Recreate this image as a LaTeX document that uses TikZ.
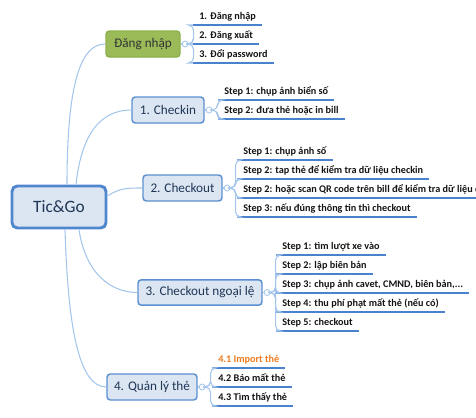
\documentclass[tikz,border=0pt]{standalone}
\usepackage{fontspec}
\setmainfont{Carlito}
\definecolor{connblue}{HTML}{A4C6EC}
\definecolor{boxblue}{HTML}{5B8FD2}
\definecolor{boxfill}{HTML}{DCE6F2}
\definecolor{rootblue}{HTML}{4F86CD}
\definecolor{navy}{HTML}{1F3656}
\definecolor{ulblue}{HTML}{4A82CE}
\definecolor{greenfill}{HTML}{9BBB59}
\definecolor{greenline}{HTML}{8DB04C}
\definecolor{leaftext}{HTML}{141414}
\definecolor{orangetext}{HTML}{EE7A1E}
\begin{document}
\begin{tikzpicture}[x=0.75pt,y=-0.75pt,
  conn/.style={draw=connblue, line width=0.8pt},
  branchln/.style={draw=connblue, line width=0.8pt, rounded corners=4pt},
  uline/.style={draw=ulblue, line width=1.5pt},
  box/.style={draw=boxblue, fill=boxfill, line width=1.1pt, rounded corners=2.5pt,
    text=navy, font=\fontsize{9.9}{11}\selectfont, inner sep=0pt, minimum height=19.5pt},
  rootbox/.style={box, draw=rootblue, line width=2.2pt, rounded corners=4pt,
    font=\fontsize{13}{15}\selectfont, minimum width=70.5pt, minimum height=31.5pt},
  greenbox/.style={box, draw=greenline, fill=greenfill, text=black!80},
  knob/.style={circle, draw=connblue, fill=white, line width=0.6pt, inner sep=0pt, minimum size=4.5pt, anchor=west},
  leaf/.style={anchor=south west, inner xsep=4.5pt, inner ysep=3.75pt, text depth=0pt,
    font=\bfseries\fontsize{7.65}{9}\selectfont, text=leaftext}
]
\useasboundingbox (0,0) rectangle (476,418);

% root and main branches
\node[rootbox] (root) at (59,207) {Tic\&Go};
\node[greenbox, minimum width=55.5pt] (b0) at (143,44) {Đăng nhập};
\node[box, minimum width=54pt] (b1) at (168,110) {1. Checkin};
\node[box, minimum width=59.25pt] (b2) at (182.5,188) {2. Checkout};
\node[box, minimum width=93pt, minimum height=19pt] (b3) at (200,292.5) {3. Checkout ngoại lệ};
\node[box, minimum width=67.5pt] (b4) at (152,387) {4. Quản lý thẻ};

% main connectors
\draw[conn] ([xshift=6pt]root.north) .. controls +(0,-110) and +(-22,0) .. (b0.west);
\draw[conn] ([xshift=12.75pt]root.north) .. controls +(6,-56) and +(-27,0) .. (b1.west);
\draw[conn] ([yshift=8.25pt]root.east) .. controls +(12,-8) and +(-15,0) .. (b2.west);
\draw[conn] ([xshift=15pt]root.south) .. controls +(6,42) and +(-28,0) .. (b3.west);
\draw[conn] ([xshift=4.5pt]root.south) .. controls +(3,100) and +(-27,0) .. (b4.west);

% knobs
\node[knob] (k0) at ([xshift=0.75pt]b0.east) {};
\node[knob] (k1) at ([xshift=0.75pt]b1.east) {};
\node[knob] (k2) at ([xshift=0.75pt]b2.east) {};
\node[knob] (k3) at ([xshift=0.75pt]b3.east) {};
\node[knob] (k4) at ([xshift=0.75pt]b4.east) {};
\draw[conn] (b0.east) -- (k0.west);
\draw[conn] (b1.east) -- (k1.west);
\draw[conn] (b2.east) -- (k2.west);
\draw[conn] (b3.east) -- (k3.west);
\draw[conn] (b4.east) -- (k4.west);

% leaves of Dang nhap
\node[leaf] (l01) at (193,25) {1. Đăng nhập};
\node[leaf] (l02) at (193,44) {2. Đăng xuất};
\node[leaf] (l03) at (193,63) {3. Đổi password};
% leaves of Checkin
\node[leaf] (l11) at (218,100) {Step 1: chụp ảnh biển số};
\node[leaf] (l12) at (218,119) {Step 2: đưa thẻ hoặc in bill};
% leaves of Checkout
\node[leaf] (l21) at (237,160) {Step 1: chụp ảnh số};
\node[leaf] (l22) at (237,179) {Step 2: tap thẻ để kiểm tra dữ liệu checkin};
\node[leaf] (l23) at (237,198) {Step 2: hoặc scan QR code trên bill để kiểm tra dữ liệu checkin};
\node[leaf] (l24) at (237,217) {Step 3: nếu đúng thông tin thì checkout};
% leaves of Checkout ngoai le
\node[leaf] (l31) at (276,255) {Step 1: tìm lượt xe vào};
\node[leaf] (l32) at (276,274) {Step 2: lập biên bản};
\node[leaf] (l33) at (276,293) {Step 3: chụp ảnh cavet, CMND, biên bản,...};
\node[leaf] (l34) at (276,312) {Step 4: thu phí phạt mất thẻ (nếu có)};
\node[leaf] (l35) at (276,331) {Step 5: checkout};
% leaves of Quan ly the
\node[leaf, text=orangetext] (l41) at (212,368) {4.1 Import thẻ};
\node[leaf] (l42) at (212,387) {4.2 Báo mất thẻ};
\node[leaf] (l43) at (212,406) {4.3 Tìm thấy thẻ};

% underlines
\foreach \l in {l01,l02,l03,l11,l12,l21,l22,l23,l24,l31,l32,l33,l34,l35,l41,l42,l43}
  \draw[uline] (\l.south west) -- (\l.south east);

% leaf connectors
\foreach \l in {l01,l02,l03} \draw[branchln] (k0.east) -- ++(5,0) |- (\l.south west);
\foreach \l in {l11,l12} \draw[branchln] (k1.east) -- ++(5,0) |- (\l.south west);
\foreach \l in {l21,l22,l23,l24} \draw[branchln] (k2.east) -- ++(5,0) |- (\l.south west);
\foreach \l in {l31,l32,l33,l34,l35} \draw[branchln] (k3.east) -- ++(5,0) |- (\l.south west);
\foreach \l in {l41,l42,l43} \draw[branchln] (k4.east) -- ++(5,0) |- (\l.south west);
\end{tikzpicture}
\end{document}
